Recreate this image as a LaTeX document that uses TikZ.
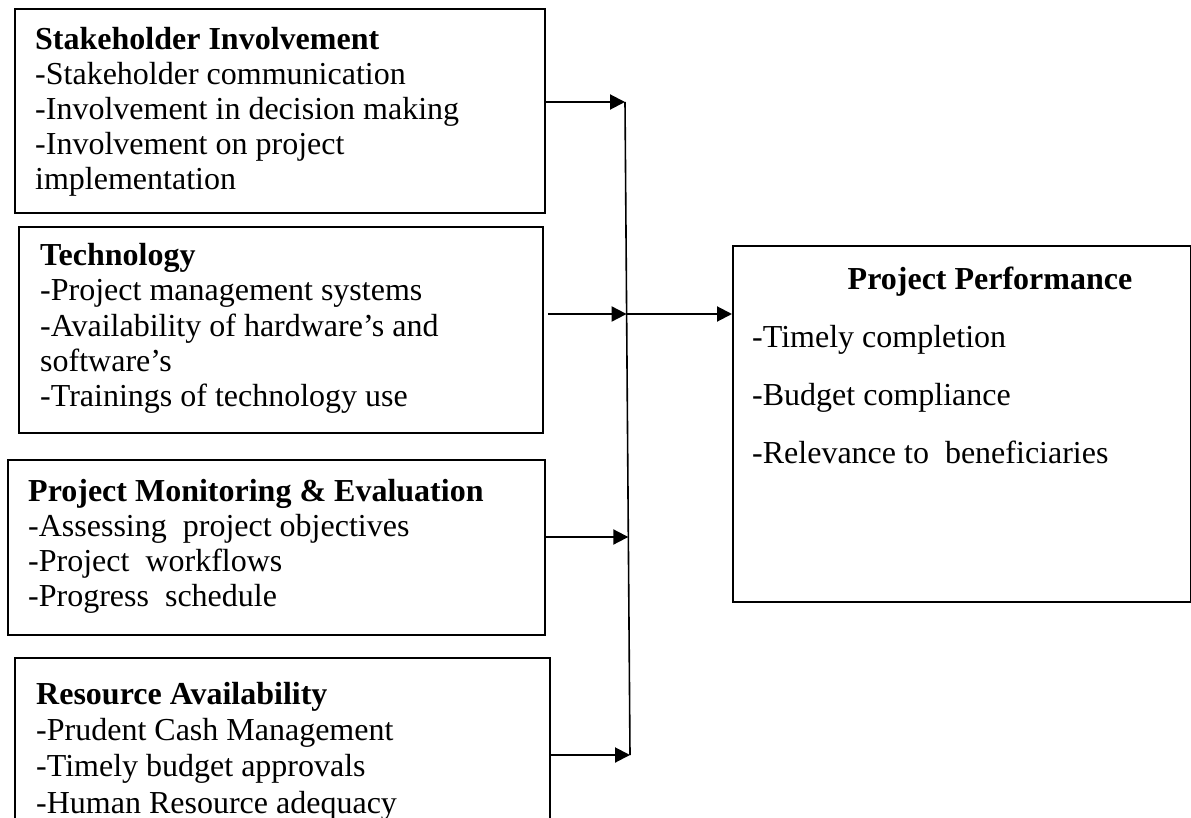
\documentclass[tikz,border=0pt]{standalone}
\usepackage{fontspec}
\setmainfont{Liberation Serif}
\usetikzlibrary{arrows.meta}
\begin{document}
\begin{tikzpicture}[x=1pt,y=-1pt,
  box/.style={draw, line width=1.8pt, anchor=north west, inner sep=0pt},
  ln/.style={anchor=base west, inner sep=0pt, font=\fontsize{32}{36}\selectfont},
  hd/.style={ln, font=\fontsize{32}{36}\selectfont\bfseries},
  arr/.style={line width=2pt, -{Triangle[length=15pt,width=15pt]}},
  link/.style={line width=1.6pt}]
\useasboundingbox (0,0) rectangle (1191,818);

% independent variable boxes
\node[box, minimum width=530pt, minimum height=204pt] (b1) at (14,8) {};
\node[hd] (b1h) at (35,50) {Stakeholder Involvement};
\node[ln] (b1a) at (35,85) {-Stakeholder communication};
\node[ln] (b1b) at (35,120) {-Involvement in decision making};
\node[ln] (b1c) at (35,155) {-Involvement on project};
\node[ln] (b1d) at (35,190) {implementation};

\node[box, minimum width=524pt, minimum height=206pt] (b2) at (18,226) {};
\node[hd] (b2h) at (40,266) {Technology};
\node[ln] (b2a) at (40,301) {-Project management systems};
\node[ln] (b2b) at (40,336) {-Availability of hardware’s and};
\node[ln] (b2c) at (40,371) {software’s};
\node[ln] (b2d) at (40,406) {-Trainings of technology use};

\node[box, minimum width=537pt, minimum height=175pt] (b3) at (7,459) {};
\node[hd] (b3h) at (28,501) {Project Monitoring \& Evaluation};
\node[ln] (b3a) at (28,536) {-Assessing\ \ project objectives};
\node[ln] (b3b) at (28,571) {-Project\ \ workflows};
\node[ln] (b3c) at (28,606) {-Progress\ \ schedule};

\node[box, minimum width=535pt, minimum height=180pt] (b4) at (14,657) {};
\node[hd] (b4h) at (36,704) {Resource Availability};
\node[ln] (b4a) at (36,740) {-Prudent Cash Management};
\node[ln] (b4b) at (36,776) {-Timely budget approvals};
\node[ln] (b4c) at (36,813) {-Human Resource adequacy};

% dependent variable box
\node[box, minimum width=458pt, minimum height=356pt] (pp) at (732,245) {};
\node[hd, anchor=base] (pph) at (990,290) {Project Performance};
\node[ln] (ppa) at (752,347) {-Timely completion};
\node[ln] (ppb) at (752,405) {-Budget compliance};
\node[ln] (ppc) at (752,463) {-Relevance to\ \ beneficiaries};

% junction points on the collector line
\coordinate (j1) at (625,102);
\coordinate (j2) at (626.6,314);
\coordinate (j3) at (628.3,537);
\coordinate (j4) at (630,755);

\draw[link] (j1) -- (j4);
\draw[arr] (b1.east |- j1) -- (j1);
\draw[arr] ([xshift=4pt]b2.east |- j2) -- (j2);
\draw[arr] (b3.east |- j3) -- (j3);
\draw[arr] (b4.east |- j4) -- (j4);
\draw[arr] (j2) -- (pp.west |- j2);
\end{tikzpicture}
\end{document}
